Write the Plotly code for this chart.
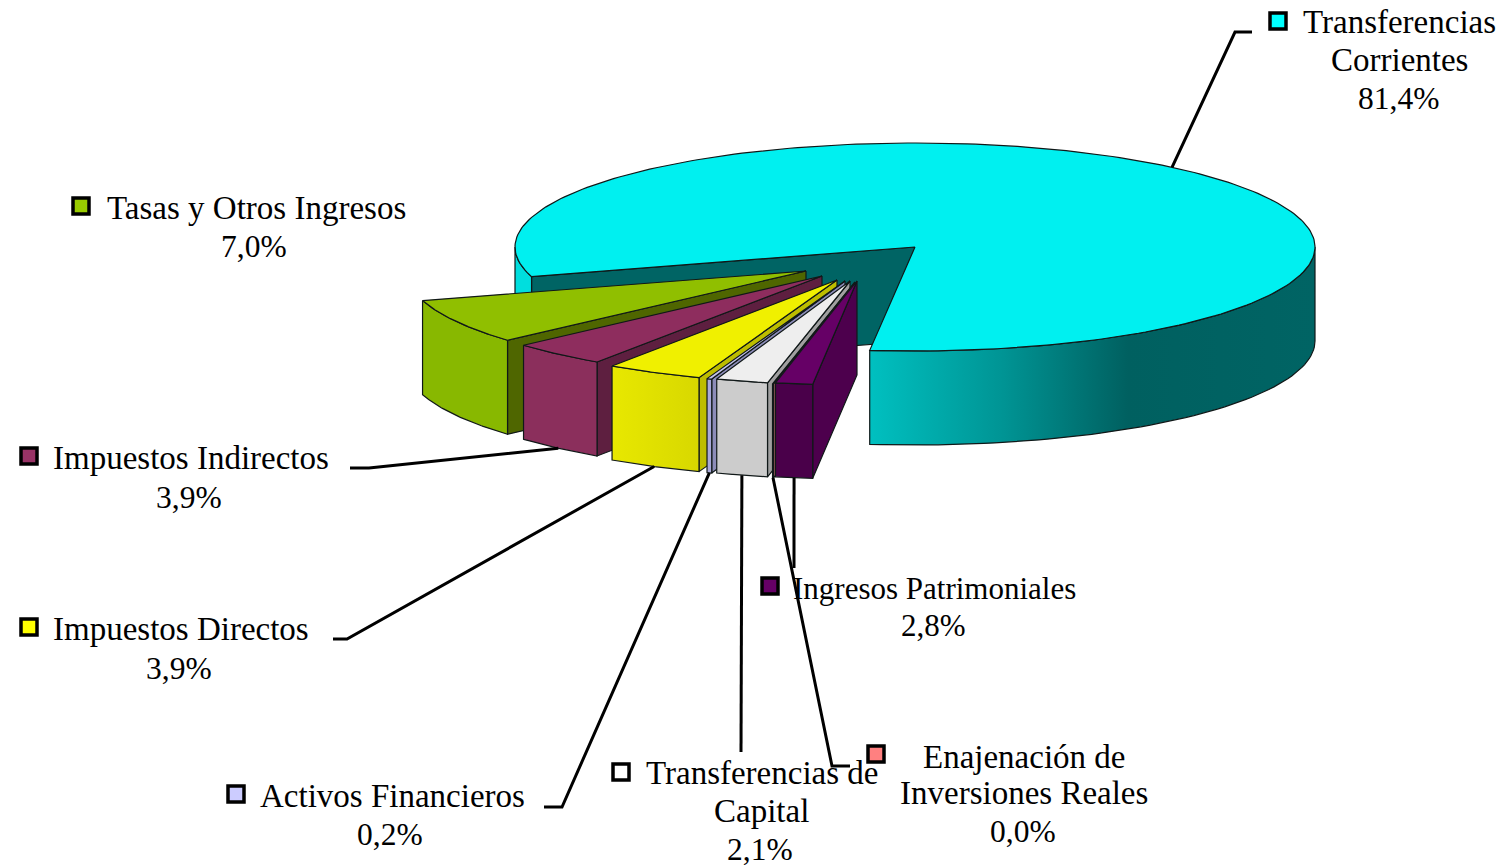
import numpy as np
import plotly.graph_objects as go

# slices, going counter-clockwise from the front of the big one
names = ["Transferencias Corrientes", "Tasas y Otros Ingresos", "Impuestos Indirectos",
         "Impuestos Directos", "Activos Financieros", "Transferencias de Capital",
         "Enajenación de Inversiones Reales", "Ingresos Patrimoniales"]
# wedge sizes as drawn (the printed 2,8% of Patrimoniales is wider than its wedge)
values = [81.4, 7.0, 3.9, 3.9, 0.2, 2.1, 0.04, 1.5]
# printed labels, one list per line
label_lines = [["Transferencias", "Corrientes", "81,4%"],
               ["Tasas y Otros Ingresos", "7,0%"],
               ["Impuestos Indirectos", "3,9%"],
               ["Impuestos Directos", "3,9%"],
               ["Activos Financieros", "0,2%"],
               ["Transferencias de", "Capital", "2,1%"],
               ["Enajenación de", "Inversiones Reales", "0,0%"],
               ["Ingresos Patrimoniales", "2,8%"]]

# colours: legend key, top, outer wall, cut wall
key_col = ["#00ffff", "#99cc00", "#993366", "#ffff00", "#ccccff", "#ffffff", "#ff8080", "#660066"]
top_col = ["#00f0f0", "#90bf00", "#8e2d5e", "#f0f000", "#c4c4ea", "#eeeeee", "#f08080", "#660066"]
side_col = ["#006464", "#88b800", "#8b2f5c", "#e0e000", "#a8a8d8", "#cccccc", "#b06060", "#4a004a"]
cut_col = ["#006464", "#4f6600", "#5e1f40", "#bdbd00", "#8c8cb8", "#a0a0a0", "#a06060", "#4d004d"]

# pie geometry in page pixels
CX, CY, RX, RY, DEPTH = 915, 247, 400, 104, 94
START = 263.5
# where each wedge's tip ends up once pulled out of the pie
tips = [(915, 247), (806, 271), (822, 276), (837, 280), (845, 281), (850, 281), (855, 282), (857, 281)]

# label layout
key_pos = [(1278, 21), (81, 206), (29, 456), (29, 627), (236, 794), (621, 772), (876, 754), (770, 586)]
text_pos = [[(1399, 22), (1399, 60), (1398, 98)],
            [(256, 208), (254, 246)],
            [(191, 458), (189, 497)],
            [(181, 629), (179, 668)],
            [(392, 796), (390, 834)],
            [(762, 773), (761, 811), (760, 849)],
            [(1024, 757), (1024, 793), (1023, 831)],
            [(934, 588), (933, 625)]]
# leader knees, from the label end towards the slice
leaders = {0: [(1252, 32), (1235, 32)],
           2: [(350, 468), (369, 468)],
           3: [(333, 639), (347, 639)],
           4: [(544, 807), (562, 807)],
           5: [(741, 752)],
           6: [(850, 766), (832, 766)],
           7: [(794, 568)]}

TEXT_SIZE, PCT_SIZE, SMALL_SIZE = 33, 31.5, 31
EDGE = dict(color="#101818", width=1.2)

fig = go.Figure()


def rim(tip, t):
    t = np.radians(t)
    return tip[0] + RX * np.cos(t), tip[1] - RY * np.sin(t)


def poly(xs, ys, color, grad=None):
    extra = dict(fillgradient=dict(type="horizontal", colorscale=grad)) if grad else dict(fillcolor=color)
    fig.add_trace(go.Scatter(x=list(xs), y=list(ys), mode="lines", fill="toself",
                             line=EDGE, hoverinfo="skip", **extra))


def outer_wall(tip, t0, t1, color, grad=None):
    ts = np.linspace(t0, t1, 60)
    x, y = rim(tip, ts)
    poly(np.r_[x, x[::-1], x[0]], np.r_[y, y[::-1] + DEPTH, y[0]], color, grad)


def cut_wall(tip, t, color):
    x, y = rim(tip, t)
    poly([tip[0], x, x, tip[0], tip[0]],
         [tip[1], y, y + DEPTH, tip[1] + DEPTH, tip[1]], color)


def top(tip, t0, t1, color):
    ts = np.linspace(t0, t1, 240)
    x, y = rim(tip, ts)
    poly(np.r_[tip[0], x, tip[0]], np.r_[tip[1], y, tip[1]], color)


spans = [v * 3.6 for v in values]

# big slice: runs from the front, round the back, to the left cut
t_end = START + spans[0]
cut_wall(tips[0], t_end - 360, cut_col[0])
outer_wall(tips[0], 180, t_end - 360, "#00dede")
outer_wall(tips[0], START, 360, side_col[0],
           grad=[[0, "#00c0c0"], [0.3, "#009494"], [0.58, "#006060"], [1, "#006464"]])
top(tips[0], START, t_end, top_col[0])

# pulled out slices, back to front
t = t_end - 360
mids = {0: START + spans[0] / 2}
for i in range(1, len(values)):
    t1 = t + spans[i]
    mids[i] = (t + t1) / 2
    cut_wall(tips[i], t1, cut_col[i])
    if names[i] == "Impuestos Directos":
        outer_wall(tips[i], t, t1, side_col[i], grad=[[0, "#e8e800"], [1, "#d8d800"]])
    else:
        outer_wall(tips[i], t, t1, side_col[i])
    top(tips[i], t, t1, top_col[i])
    t = t1

# leader lines end on the slice's mid angle
for i, knees in leaders.items():
    x, y = rim(tips[i], mids[i])
    if i != 0:
        y += DEPTH
    fig.add_trace(go.Scatter(x=[k[0] for k in knees] + [x], y=[k[1] for k in knees] + [y],
                             mode="lines", line=dict(color="black", width=3), hoverinfo="skip"))

fig.add_trace(go.Scatter(x=[k[0] for k in key_pos], y=[k[1] for k in key_pos], mode="markers",
                         marker=dict(symbol="square", size=16, color=key_col,
                                     line=dict(color="black", width=3.5)),
                         hoverinfo="skip"))

for name, lines, places in zip(names, label_lines, text_pos):
    for line, (x, y) in zip(lines, places):
        size = PCT_SIZE if line.endswith("%") else TEXT_SIZE
        if name == "Ingresos Patrimoniales":
            size = SMALL_SIZE
        fig.add_annotation(x=x, y=y, text=line, showarrow=False,
                           font=dict(family="Liberation Serif", size=size, color="black"),
                           xanchor="center", yanchor="middle", borderpad=0)

fig.update_xaxes(visible=False, range=[0, 1503])
fig.update_yaxes(visible=False, range=[865, 0])
fig.update_layout(width=1503, height=865, margin=dict(l=0, r=0, t=0, b=0), showlegend=False,
                  paper_bgcolor="white", plot_bgcolor="white")

fig.write_html("out.html", config=dict(displayModeBar=False),
               post_script="document.body.style.margin='0';")
